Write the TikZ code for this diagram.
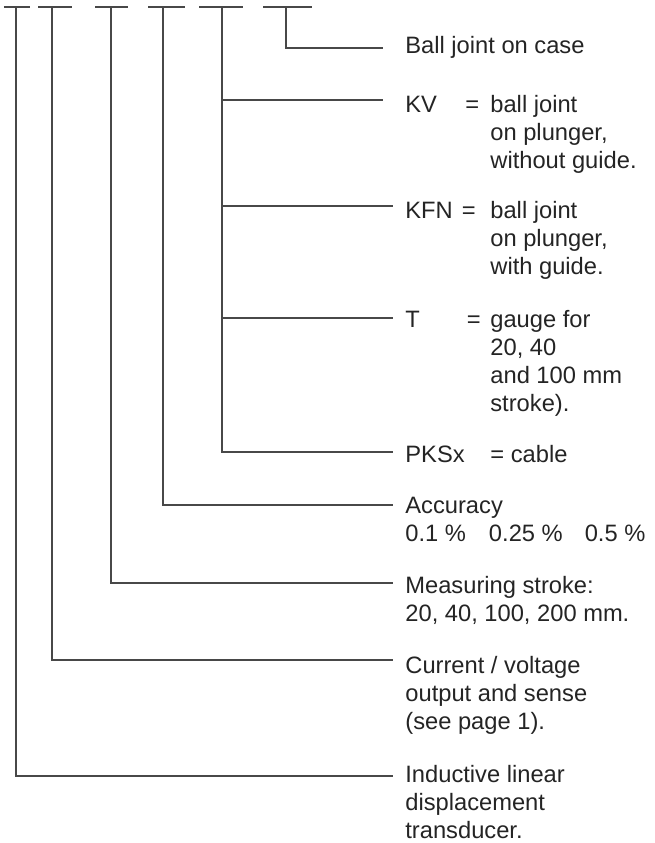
\documentclass[tikz,border=0pt]{standalone}
\usepackage{fontspec}
\setmainfont{Liberation Sans}
\usepackage{xcolor}
\definecolor{wire}{HTML}{484848}
\definecolor{ink}{HTML}{242424}
\newcommand{\textrows}[1]{\begin{tabular}[t]{@{}l@{}}#1\end{tabular}}
\newcommand{\keyed}[3]{\begin{tabular}[t]{@{}l@{}l@{}}\makebox[42.5pt][l]{\makebox[#2][l]{#1}=}&#3\end{tabular}}

\begin{document}
\begin{tikzpicture}[
    x=0.5pt, y=-0.5pt,
    wire/.style={draw=wire, line width=0.9pt},
    lbl/.style={
        anchor=base west,
        inner sep=0pt,
        text=ink,
        font=\fontsize{11.85pt}{14pt}\selectfont
    }
]
\useasboundingbox (0,0) rectangle (655,843);

% code bars along the top
\foreach \l/\r/\v [count=\i] in {4/30/15.7, 38/72/52.3, 95/128/110.7,
    148/185/163.3, 199/243/221.7, 263/312/286}{
    \draw[wire] (\l,6.7) -- (\r,6.7);
    \coordinate (top\i) at (\v,6.7);
}

% labels
\node[lbl] (ball) at (405,53.5) {Ball joint on case};
\node[lbl] (kv) at (405,112)
{\keyed{KV}{30pt}{ball joint\\&on plunger,\\&without guide.}};
\node[lbl] (kfn) at (405,218)
{\keyed{KFN}{28.3pt}{ball joint\\&on plunger,\\&with guide.}};
\node[lbl] (gauge) at (405,327)
{\keyed{T}{30.8pt}{gauge for\\&20, 40\\&and 100 mm\\&stroke).}};
\node[lbl] (pksx) at (405,462) {\makebox[42.5pt][l]{PKSx}= cable};
\node[lbl] (acc) at (405,513)
{\textrows{Accuracy\\0.1~\%\hspace{11.5pt}0.25~\%\hspace{11pt}0.5~\%}};
\node[lbl] (stroke) at (405,593)
{\textrows{Measuring stroke:\\20, 40, 100, 200 mm.}};
\node[lbl] (output) at (405,673)
{\textrows{Current / voltage\\output and sense\\(see page 1).}};
\node[lbl] (ildt) at (405,782)
{\textrows{Inductive linear\\displacement\\transducer.}};

% line ends next to the labels
\coordinate (eball) at (383,48.3);
\coordinate (ekv) at (383,100);
\coordinate (ekfn) at (393,206);
\coordinate (egauge) at (393,318);
\coordinate (epksx) at (393,452);
\coordinate (eacc) at (393,505);
\coordinate (estroke) at (393,583);
\coordinate (eoutput) at (393,660);
\coordinate (eildt) at (393,776);

% connectors
\draw[wire] (top6) |- (eball);
\draw[wire] (top5) |- (epksx);
\foreach \e in {ekv, ekfn, egauge}
    \draw[wire] (top5 |- \e) -- (\e);
\draw[wire] (top4) |- (eacc);
\draw[wire] (top3) |- (estroke);
\draw[wire] (top2) |- (eoutput);
\draw[wire] (top1) |- (eildt);

\end{tikzpicture}
\end{document}
